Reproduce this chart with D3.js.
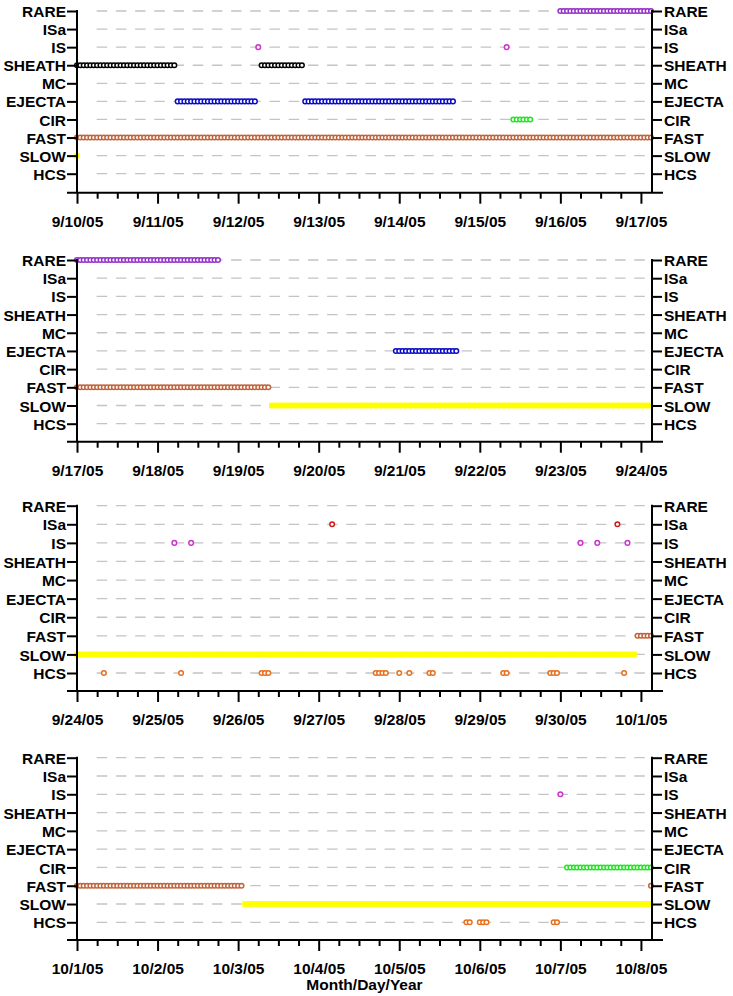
<!DOCTYPE html>
<html><head><meta charset="utf-8">
<script src="https://cdn.jsdelivr.net/npm/d3@7"></script>
<style>
body{margin:0;background:#fff}
svg{display:block}
text{font-family:"Liberation Sans",Arial,sans-serif}
</style>
</head><body>
<svg id="c" width="733" height="996"></svg>
<script>
// ---------- data ----------
const categories = ["RARE","ISa","IS","SHEATH","MC","EJECTA","CIR","FAST","SLOW","HCS"];
const panelStarts = ["2005-09-10","2005-09-17","2005-09-24","2005-10-01"];
const tickLabels1 = ["9/10/05","9/11/05","9/12/05","9/13/05","9/14/05","9/15/05","9/16/05","9/17/05"];
const tickLabels2 = ["9/17/05","9/18/05","9/19/05","9/20/05","9/21/05","9/22/05","9/23/05","9/24/05"];
const tickLabels3 = ["9/24/05","9/25/05","9/26/05","9/27/05","9/28/05","9/29/05","9/30/05","10/1/05"];
const tickLabels4 = ["10/1/05","10/2/05","10/3/05","10/4/05","10/5/05","10/6/05","10/7/05","10/8/05"];
const xTitle = "Month/Day/Year";

// hourly classification runs: [category, first hour, last hour] (hours since panel start)
const runs1 = [
  ["RARE",144,171],
  ["IS",54,54],["IS",128,128],
  ["SHEATH",0,29],["SHEATH",55,67],
  ["EJECTA",30,53],["EJECTA",68,112],
  ["CIR",130,135],
  ["FAST",0,171],
  ["SLOW",0,0]
];
const runs2 = [
  ["RARE",0,42],
  ["EJECTA",95,113],
  ["FAST",0,57],
  ["SLOW",58,171]
];
const runs3 = [
  ["ISa",76,76],["ISa",161,161],
  ["IS",29,29],["IS",34,34],["IS",150,150],["IS",155,155],["IS",164,164],
  ["FAST",167,171],
  ["SLOW",0,166],
  ["HCS",8,8],["HCS",31,31],["HCS",55,57],["HCS",89,92],["HCS",96,96],["HCS",99,99],
  ["HCS",105,106],["HCS",127,128],["HCS",141,143],["HCS",163,163]
];
const runs4 = [
  ["IS",144,144],
  ["CIR",146,171],
  ["FAST",0,49],["FAST",171,171],
  ["SLOW",50,171],
  ["HCS",116,117],["HCS",120,122],["HCS",142,143]
];

const colors = {
  RARE:"#9630c8", ISa:"#d01818", IS:"#cc33cc", SHEATH:"#000000", MC:"#444444",
  EJECTA:"#0a0ac8", CIR:"#22e622", FAST:"#c0643c", SLOW:"#ffff00", HCS:"#e8701e"
};

// ---------- layout ----------
const panels = [
  {start:panelStarts[0], runs:runs1, ticks:tickLabels1, top:11,    bot:173.7, axis:192.7},
  {start:panelStarts[1], runs:runs2, ticks:tickLabels2, top:260,   bot:423.7, axis:441.7},
  {start:panelStarts[2], runs:runs3, ticks:tickLabels3, top:505.7, bot:673,   axis:691},
  {start:panelStarts[3], runs:runs4, ticks:tickLabels4, top:757.7, bot:922.3, axis:940}
];
const X0 = 77, X1 = 652;
const FS = 15.5;
const svg = d3.select("#c");

panels.forEach(p => {
  const t0 = new Date(p.start + "T00:00:00Z");
  const tEnd = new Date(+t0 + 171.3*3600e3);
  const x = d3.scaleUtc().domain([t0, tEnd]).range([X0, X1]);
  const y = d3.scalePoint().domain(categories).range([p.top, p.bot]);
  const g = svg.append("g");

  // gridlines
  g.append("g").selectAll("line").data(categories).join("line")
    .attr("x1", X0 + 19.7).attr("x2", X1 - 2)
    .attr("y1", d => y(d)).attr("y2", d => y(d))
    .attr("stroke", "#c4c4c4").attr("stroke-width", 1.3)
    .attr("stroke-dasharray", "10.5,8.7");

  // points
  const pts = [];
  p.runs.forEach(([cat, a, b]) => {
    for (let h = a; h <= b; h++) pts.push({cat, t: new Date(+t0 + h*3600e3)});
  });
  const slow = pts.filter(d => d.cat === "SLOW");
  const other = pts.filter(d => d.cat !== "SLOW");
  g.append("g").selectAll("rect").data(slow).join("rect")
    .attr("x", d => x(d.t) - 2.6).attr("y", d => y(d.cat) - 2.8)
    .attr("width", 5.2).attr("height", 5.6)
    .attr("fill", colors.SLOW);
  g.append("g").selectAll("circle").data(other).join("circle")
    .attr("cx", d => x(d.t)).attr("cy", d => y(d.cat)).attr("r", 2.3)
    .attr("fill", "#fff").attr("stroke", d => colors[d.cat]).attr("stroke-width", 1.5);

  // left / right axes
  const yAxL = d3.axisLeft(y).tickSize(10).tickPadding(1).tickSizeOuter(0);
  const gl = g.append("g").attr("transform", `translate(${X0},0)`).call(yAxL);
  const yAxR = d3.axisRight(y).tickSize(10).tickPadding(2).tickSizeOuter(0);
  const gr = g.append("g").attr("transform", `translate(${X1},0)`).call(yAxR);
  [gl, gr].forEach(a => {
    a.select(".domain").remove();
    a.selectAll(".tick line").attr("stroke", "#000").attr("stroke-width", 2);
    a.selectAll(".tick text").attr("font-size", FS).attr("font-weight", "bold")
      .attr("fill", "#000").attr("dy", "0.36em");
  });
  g.append("line").attr("x1", X0).attr("x2", X0).attr("y1", p.top - 1).attr("y2", p.axis)
    .attr("stroke", "#000").attr("stroke-width", 2);
  g.append("line").attr("x1", X1).attr("x2", X1).attr("y1", p.top - 1).attr("y2", p.axis)
    .attr("stroke", "#000").attr("stroke-width", 2);

  // bottom axis
  const days = d3.range(8).map(i => new Date(+t0 + i*86400e3));
  const minors = d3.range(29).map(i => new Date(+t0 + i*6*3600e3)).filter(d => d.getUTCHours() !== 0);
  const gbMin = g.append("g").attr("transform", `translate(0,${p.axis})`)
    .call(d3.axisBottom(x).tickValues(minors).tickSize(6).tickFormat("").tickSizeOuter(0));
  gbMin.select(".domain").remove();
  gbMin.selectAll(".tick line").attr("stroke", "#000").attr("stroke-width", 2);
  const gb = g.append("g").attr("transform", `translate(0,${p.axis})`)
    .call(d3.axisBottom(x).tickValues(days).tickSize(11).tickPadding(12)
      .tickFormat((d, i) => p.ticks[i]).tickSizeOuter(0));
  gb.select(".domain").remove();
  gb.selectAll(".tick line").attr("stroke", "#000").attr("stroke-width", 2);
  gb.selectAll(".tick text").attr("font-size", FS).attr("font-weight", "bold").attr("fill", "#000");
  g.append("line").attr("x1", X0 - 10).attr("x2", X1 + 11).attr("y1", p.axis).attr("y2", p.axis)
    .attr("stroke", "#000").attr("stroke-width", 2);
});

svg.append("text").attr("x", (X0 + X1) / 2).attr("y", 990)
  .attr("text-anchor", "middle").attr("font-size", FS).attr("font-weight", "bold")
  .text(xTitle);
</script>
</body></html>
